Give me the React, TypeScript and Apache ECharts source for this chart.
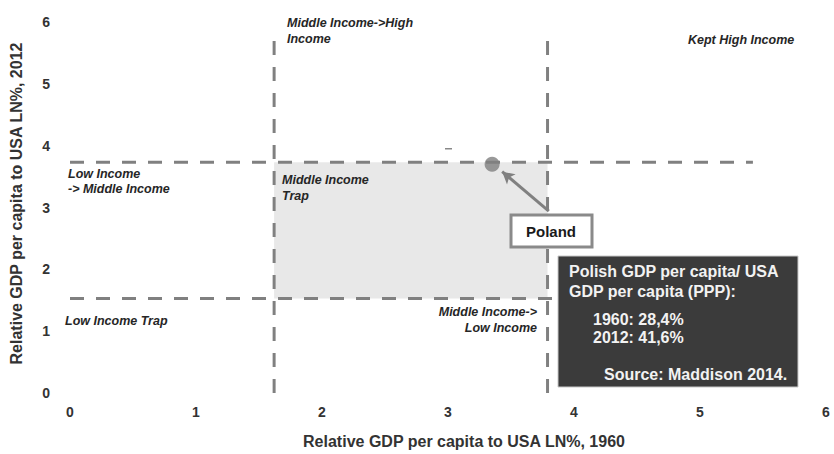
import React, { useEffect, useRef } from "react";
import * as echarts from "echarts";

// Thresholds (LN of relative GDP per capita, %)
const leftThreshold = 1.62;
const rightThreshold = 3.79;
const lowerThreshold = 1.53;
const upperThreshold = 3.73;
const verticalTop = 5.84;
const horizontalEnd = 5.42;

// Poland: 1960 -> 28.4 %, 2012 -> 41.6 %
const polandPoint = [3.35, 3.7];
const arrowStart = [3.8, 2.94];
const arrowEnd = [3.43, 3.58];

const quadrantLabels = [
  { text: "Middle Income->High\nIncome", x: 287, y: 15, align: "left", lh: 16 },
  { text: "Kept High Income", x: 688, y: 32, align: "left", lh: 16 },
  { text: "Low Income\n-> Middle Income", x: 68, y: 166, align: "left", lh: 15 },
  { text: "Middle Income\nTrap", x: 282, y: 172, align: "left", lh: 16 },
  { text: "Low Income Trap", x: 65, y: 313, align: "left", lh: 16 },
  { text: "Middle Income->\nLow Income", x: 537, y: 304, align: "right", lh: 16 },
];

const infoLines = [
  { text: "Polish GDP per capita/ USA", x: 569, y: 263 },
  { text: "GDP per capita (PPP):", x: 569, y: 283 },
  { text: "1960: 28,4%", x: 593, y: 311 },
  { text: "2012: 41,6%", x: 593, y: 329 },
  { text: "Source: Maddison 2014.", x: 604, y: 366 },
];

const dash = [14, 12];
const lineColor = "#808080";

export default function App() {
  const ref = useRef<HTMLDivElement>(null);
  useEffect(() => {
    if (!ref.current) return;
    const chart = echarts.init(ref.current, null, { renderer: "svg" });
    const dashedLine = (data: number[][]) => ({
      type: "line",
      data,
      symbol: "none",
      silent: true,
      lineStyle: { color: lineColor, width: 3, type: dash },
      z: 3,
    });
    chart.setOption({
      animation: false,
      grid: { left: 67, right: 8, top: 22, bottom: 60 },
      xAxis: {
        type: "value",
        min: 0,
        max: 6,
        interval: 1,
        name: "Relative GDP per capita to USA LN%, 1960",
        nameLocation: "middle",
        nameGap: 40,
        nameTextStyle: {
          fontFamily: "Liberation Sans",
          fontWeight: "bold",
          fontSize: 16,
          color: "#333",
          padding: [0, 0, 0, 32],
        },
        axisLine: { show: false },
        axisTick: { show: false },
        splitLine: { show: false },
        axisLabel: { fontFamily: "Liberation Sans", fontWeight: "bold", fontSize: 14, color: "#333", margin: 12 },
      },
      yAxis: {
        type: "value",
        min: 0,
        max: 6,
        interval: 1,
        name: "Relative GDP per capita to USA LN%, 2012",
        nameLocation: "middle",
        nameGap: 46,
        nameTextStyle: {
          fontFamily: "Liberation Sans",
          fontWeight: "bold",
          fontSize: 16,
          color: "#333",
          padding: [0, 0, 0, 8],
        },
        axisLine: { show: false },
        axisTick: { show: false },
        splitLine: { show: false },
        axisLabel: { fontFamily: "Liberation Sans", fontWeight: "bold", fontSize: 14, color: "#333", margin: 20 },
      },
      series: [
        {
          type: "scatter",
          data: [polandPoint],
          symbolSize: 15,
          itemStyle: { color: "#808080" },
          z: 5,
          markArea: {
            silent: true,
            itemStyle: { color: "#e8e8e8" },
            data: [[{ coord: [leftThreshold, upperThreshold] }, { coord: [rightThreshold, lowerThreshold] }]],
          },
          markLine: {
            silent: true,
            symbol: ["none", "arrow"],
            symbolSize: [10, 12],
            lineStyle: { color: "#808080", width: 3, type: "solid" },
            label: { show: false },
            data: [[{ coord: arrowStart }, { coord: arrowEnd }]],
          },
        },
        dashedLine([[leftThreshold, 0], [leftThreshold, verticalTop]]),
        dashedLine([[rightThreshold, 0], [rightThreshold, verticalTop]]),
        dashedLine([[0, upperThreshold], [horizontalEnd, upperThreshold]]),
        dashedLine([[0, lowerThreshold], [horizontalEnd, lowerThreshold]]),
      ],
      graphic: [
        ...quadrantLabels.map((l) => ({
          type: "text",
          x: l.x,
          y: l.y,
          z: 10,
          style: {
            text: l.text,
            align: l.align,
            fontFamily: "Liberation Sans",
            fontStyle: "italic",
            fontWeight: "bold",
            fontSize: 12.5,
            lineHeight: l.lh,
            fill: "#262626",
          },
        })),
        {
          type: "rect",
          z: 10,
          shape: { x: 445, y: 148, width: 7, height: 1.5 },
          style: { fill: "#888" },
        },
        {
          type: "rect",
          z: 20,
          shape: { x: 511, y: 215, width: 81, height: 32 },
          style: { fill: "#fff", stroke: "#8a8a8a", lineWidth: 3 },
        },
        {
          type: "text",
          z: 21,
          x: 551,
          y: 231,
          style: {
            text: "Poland",
            align: "center",
            verticalAlign: "middle",
            fontFamily: "Liberation Sans",
            fontWeight: "bold",
            fontSize: 15,
            fill: "#1a1a1a",
          },
        },
        {
          type: "rect",
          z: 20,
          shape: { x: 558, y: 256, width: 240, height: 131 },
          style: { fill: "#3b3b3b", stroke: "#c8c8c8", lineWidth: 1 },
        },
        ...infoLines.map((l) => ({
          type: "text",
          z: 21,
          x: l.x,
          y: l.y,
          style: {
            text: l.text,
            fontFamily: "Liberation Sans",
            fontWeight: "bold",
            fontSize: 16,
            fill: "#f2f2f2",
          },
        })),
      ],
    });
    return () => chart.dispose();
  }, []);
  return <div ref={ref} style={{ width: 834, height: 454, position: "absolute", left: 0, top: 0 }} />;
}
